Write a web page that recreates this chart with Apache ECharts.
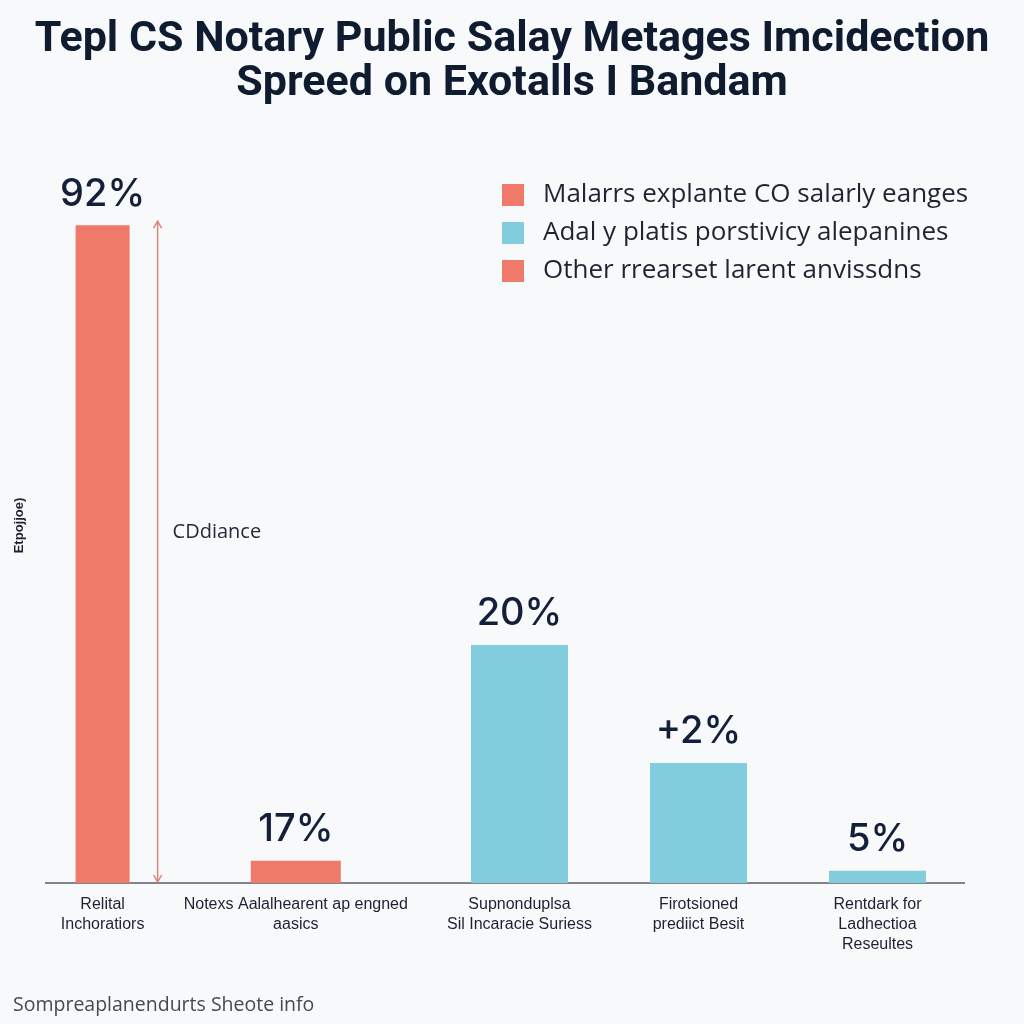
<!DOCTYPE html>
<html><head><meta charset="utf-8">
<script src="https://cdn.jsdelivr.net/npm/echarts@6/dist/echarts.min.js"></script>
<style>html,body{margin:0;padding:0;background:#f8f9fb}#c{width:1024px;height:1024px}</style>
</head><body><div id="c"></div>
<script>
const titleText = 'Tepl CS Notary Public Salay Metages Imcidection\nSpreed on Exotalls I Bandam';
const footerText = 'Sompreaplanendurts Sheote info';
const yAxisName = 'Etpojjoe)';
const annotationText = 'CDdiance';
const categories = [
  'Relital\nInchoratiors',
  'Notexs Aalalhearent ap engned\naasics',
  'Supnonduplsa\nSil Incaracie Suriess',
  'Firotsioned\nprediict Besit',
  'Rentdark for\nLadhectioa\nReseultes'
];
const seriesNames = [
  'Malarrs explante CO salarly eanges',
  'Adal y platis porstivicy alepanines',
  'Other rrearset larent anvissdns'
];
const malarrsValues = [92, '-', '-', '-', '-'];
const adalValues = ['-', '-', 33.3, 16.8, 1.7];
const otherValues = ['-', 3.1, '-', '-', '-'];
const valueLabels = ['92%', '17%', '20%', '+2%', '5%'];

const RED = '#f07a6a', BLUE = '#82cddd';
const chart = echarts.init(document.getElementById('c'), null, {renderer: 'canvas'});

const labelCfg = {
  show: true, position: 'top', distance: 12,
  fontFamily: 'Inter', fontSize: 38, fontWeight: 500, color: '#14203a',
  formatter: p => valueLabels[p.dataIndex]
};
function catAxis(gridIndex, shownIdx) {
  return {
    type: 'category', data: categories, gridIndex: gridIndex,
    axisLine: {show: false}, axisTick: {show: false},
    axisLabel: shownIdx.length ? {
      show: true, interval: 0, margin: 12, fontFamily: 'Liberation Sans', fontSize: 16,
      lineHeight: 20, color: '#1c2233', align: 'center',
      formatter: (v, i) => shownIdx.indexOf(i) >= 0 ? v : ''
    } : {show: false}
  };
}
function valAxis(gridIndex, withName) {
  const a = {
    type: 'value', min: 0, max: 100, gridIndex: gridIndex,
    axisLine: {show: false}, axisTick: {show: false}, axisLabel: {show: false}, splitLine: {show: false}
  };
  if (withName) {
    Object.assign(a, {
      name: yAxisName, nameLocation: 'middle', nameRotate: 90, nameGap: -20,
      nameTextStyle: {fontFamily: 'Liberation Sans', fontSize: 13, fontWeight: 'bold', color: '#1c2233'}
    });
  }
  return a;
}
chart.setOption({
  backgroundColor: '#f8f9fb',
  animation: false,
  title: [{
    text: titleText, left: 'center', top: 13,
    textStyle: {fontFamily: 'Roboto', fontSize: 43, fontWeight: 'bold', color: '#0f1c30', lineHeight: 44}
  }, {
    text: footerText, left: 8, top: 990,
    textStyle: {fontFamily: 'Open Sans', fontSize: 19.5, fontWeight: 'normal', color: '#454a52'}
  }],
  legend: {
    orient: 'vertical', left: 497, top: 177, icon: 'rect',
    itemWidth: 22, itemHeight: 22, itemGap: 12,
    textStyle: {fontFamily: 'Open Sans', fontSize: 26, color: '#1f2430', padding: [0, 0, 0, 14]},
    data: seriesNames
  },
  grid: [
    {left: 6, right: 52, top: 168, bottom: 141},
    {left: 72, right: 57, top: 168, bottom: 141}
  ],
  xAxis: [catAxis(0, [0, 1]), catAxis(1, [2, 3, 4]), catAxis(0, [])],
  yAxis: [valAxis(0, true), valAxis(1, false)],
  series: [
    {name: seriesNames[0], type: 'bar', xAxisIndex: 0, yAxisIndex: 0, data: malarrsValues, barWidth: 54,
     itemStyle: {color: RED}, label: labelCfg},
    {name: seriesNames[1], type: 'bar', xAxisIndex: 1, yAxisIndex: 1, data: adalValues, barWidth: 97,
     itemStyle: {color: BLUE}, label: labelCfg},
    {name: seriesNames[2], type: 'bar', xAxisIndex: 2, yAxisIndex: 0, data: otherValues, barWidth: 90,
     itemStyle: {color: RED}, label: labelCfg}
  ]
});

const top0 = chart.convertToPixel({xAxisIndex: 0, yAxisIndex: 0}, [0, malarrsValues[0]]);
const base0 = chart.convertToPixel({xAxisIndex: 0, yAxisIndex: 0}, [0, 0]);
const ax = top0[0] + 55, ay1 = top0[1] - 4, ay2 = base0[1];
const ARROW = '#d9867a';
chart.setOption({
  graphic: [
    {type: 'line', shape: {x1: 45, y1: ay2, x2: 965, y2: ay2}, style: {stroke: '#5a5e66', lineWidth: 1.5}},
    {type: 'line', shape: {x1: ax, y1: ay1, x2: ax, y2: ay2 - 1}, style: {stroke: ARROW, lineWidth: 1.5}},
    {type: 'polyline', shape: {points: [[ax - 4, ay1 + 7], [ax, ay1], [ax + 4, ay1 + 7]]}, style: {stroke: ARROW, lineWidth: 1.5, fill: null}},
    {type: 'polyline', shape: {points: [[ax - 4, ay2 - 8], [ax, ay2 - 1], [ax + 4, ay2 - 8]]}, style: {stroke: ARROW, lineWidth: 1.5, fill: null}},
    {type: 'text', x: ax + 15, y: (ay1 + ay2) / 2 - 20,
     style: {text: annotationText, fontFamily: 'Open Sans', fontSize: 20, fill: '#262b36', verticalAlign: 'middle'}}
  ]
});
</script>
</body></html>
